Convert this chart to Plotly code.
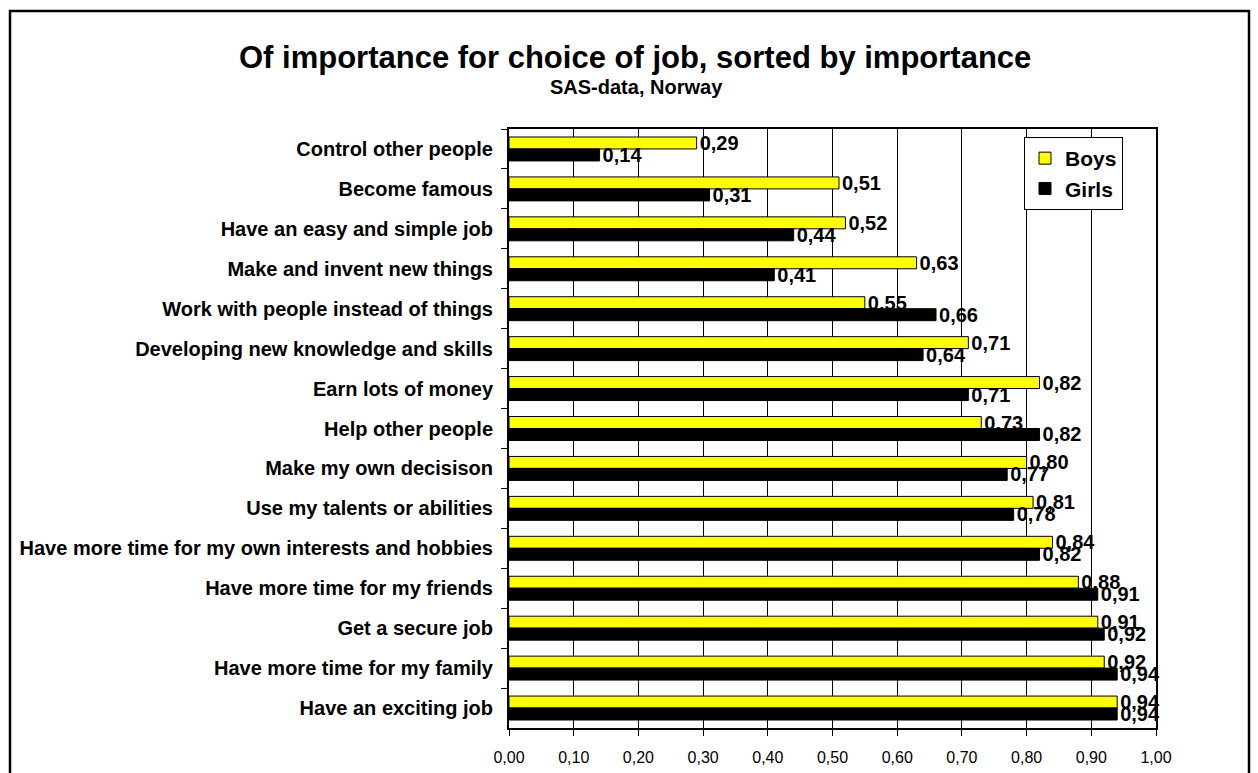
import plotly.graph_objects as go

categories = [
    "Control other people",
    "Become famous",
    "Have an easy and simple job",
    "Make and invent new things",
    "Work with people instead of things",
    "Developing new knowledge and skills",
    "Earn lots of money",
    "Help other people",
    "Make my own decisison",
    "Use my talents or abilities",
    "Have more time for my own interests and hobbies",
    "Have more time for my friends",
    "Get a secure job",
    "Have more time for my family",
    "Have an exciting job",
]
boys = [0.29, 0.51, 0.52, 0.63, 0.55, 0.71, 0.82, 0.73, 0.80, 0.81, 0.84, 0.88, 0.91, 0.92, 0.94]
girls = [0.14, 0.31, 0.44, 0.41, 0.66, 0.64, 0.71, 0.82, 0.77, 0.78, 0.82, 0.91, 0.92, 0.94, 0.94]
x_ticks = [0.0, 0.1, 0.2, 0.3, 0.4, 0.5, 0.6, 0.7, 0.8, 0.9, 1.0]

W, H = 1258, 773
ML, MR, MT, MB = 509, 102, 129, 45
PW, PH = W - ML - MR, H - MT - MB


def px(x):
    return (x - ML) / PW


def py(y):
    return (H - MB - y) / PH


def fmt(v):
    return f"{v:.2f}".replace(".", ",")


BOLD = "Liberation Sans, Arial, sans-serif"

fig = go.Figure()
fig.add_trace(go.Bar(
    y=categories, x=boys, name="Boys", orientation="h",
    marker=dict(color="#FFFF00", line=dict(color="black", width=1)),
    text=[fmt(v) for v in boys], textposition="outside",
    textfont=dict(family=BOLD, size=20, color="black", weight="bold"),
    constraintext="none", cliponaxis=False,
))
fig.add_trace(go.Bar(
    y=categories, x=girls, name="Girls", orientation="h",
    marker=dict(color="black", line=dict(color="black", width=1)),
    text=[fmt(v) for v in girls], textposition="outside",
    textfont=dict(family=BOLD, size=20, color="black", weight="bold"),
    constraintext="none", cliponaxis=False,
))

fig.update_layout(
    width=W, height=H,
    margin=dict(l=ML, r=MR, t=MT, b=MB, pad=0, autoexpand=False),
    paper_bgcolor="white", plot_bgcolor="white",
    barmode="group", bargap=0.4, bargroupgap=0,
    separators=",.",
    font=dict(family=BOLD, color="black"),
    showlegend=True,
    legend=dict(
        x=px(1024), y=py(137), xanchor="left", yanchor="top",
        bgcolor="white", bordercolor="black", borderwidth=1,
        font=dict(family=BOLD, size=21, color="black", weight="bold"),
        traceorder="normal", itemwidth=30,
    ),
    xaxis=dict(
        range=[0, 1], tickvals=x_ticks, ticktext=[fmt(v) for v in x_ticks],
        showgrid=True, gridcolor="black", gridwidth=1,
        zeroline=False, automargin=False,
        showline=True, linecolor="black", linewidth=2, mirror=True,
        ticks="outside", ticklen=6, tickcolor="black", tickwidth=1,
        tickfont=dict(family=BOLD, size=16, color="black"),
        ticklabelstandoff=8,
    ),
    yaxis=dict(
        autorange="reversed", type="category",
        showgrid=False, zeroline=False, automargin=False,
        showline=True, linecolor="black", linewidth=2, mirror=True,
        ticks="outside", tickson="boundaries", ticklen=6, tickcolor="black", tickwidth=1,
        tickfont=dict(family=BOLD, size=20, color="black", weight="bold"),
        ticklabelstandoff=10,
    ),
    annotations=[
        dict(text="Of importance for choice of job, sorted by importance",
             x=px(635), y=py(57), xref="paper", yref="paper",
             xanchor="center", yanchor="middle", showarrow=False,
             font=dict(family=BOLD, size=31, color="black", weight="bold")),
        dict(text="SAS-data, Norway",
             x=px(636), y=py(87), xref="paper", yref="paper",
             xanchor="center", yanchor="middle", showarrow=False,
             font=dict(family=BOLD, size=20, color="black", weight="bold")),
    ],
    shapes=[
        dict(type="rect", xref="paper", yref="paper",
             x0=px(10), x1=px(1249), y0=py(800), y1=py(11),
             line=dict(color="black", width=2.5), fillcolor="rgba(0,0,0,0)"),
    ],
)

fig.write_html("out.html", config={"displayModeBar": False},
               post_script="document.body.style.margin='0';")
